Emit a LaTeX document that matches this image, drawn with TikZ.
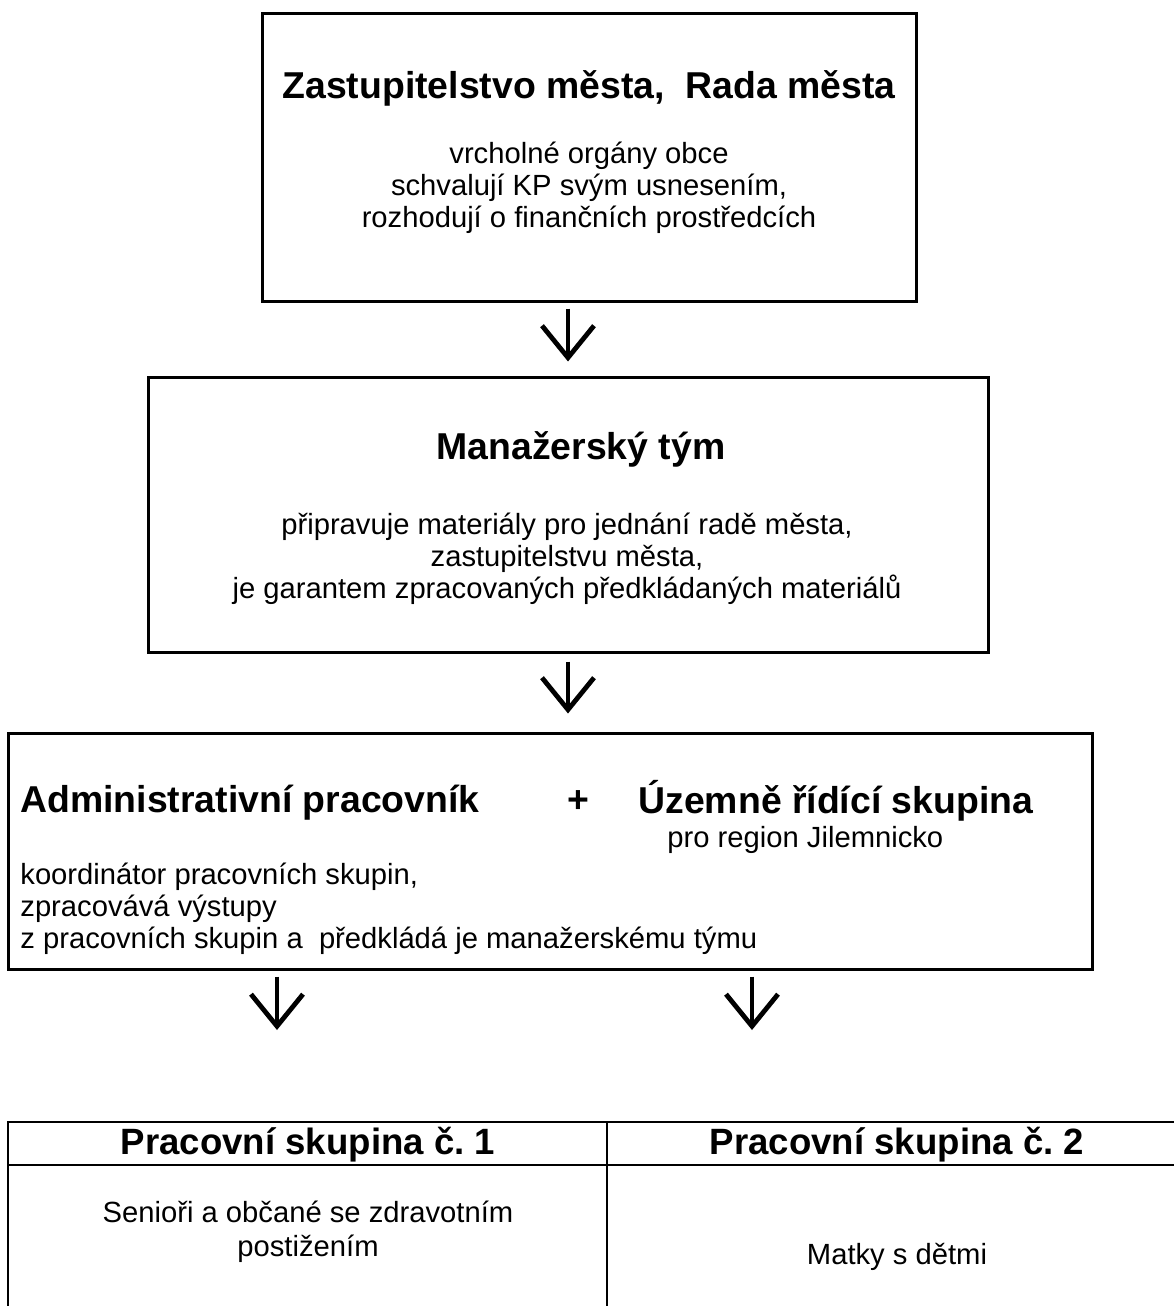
\documentclass[tikz,border=0pt]{standalone}
\usepackage{fontspec}
\setmainfont{Liberation Sans}
\usetikzlibrary{arrows.meta}

\begin{document}
\begin{tikzpicture}[x=0.5pt,y=-0.5pt,
  box/.style={draw,line width=1.5pt,inner sep=0pt},
  head/.style={font=\fontsize{18.7}{22}\selectfont\bfseries},
  body/.style={font=\fontsize{14.6}{16}\selectfont,align=center},
  arr/.style={-{Straight Barb[length=16pt,width=26pt]},line width=2.4pt},
  rule/.style={line width=1pt}]

\useasboundingbox (0,0) rectangle (1174,1306);

% boxes
\node[box,minimum width=327pt,minimum height=144pt] (box1) at (589,157) {};
\node[box,minimum width=420pt,minimum height=137.5pt] (box2) at (568,514.5) {};
\node[box,minimum width=542pt,minimum height=118pt] (box3) at (550,851) {};

\node[head] (zast) at (589,88) {Zastupitelstvo města,\ \ Rada města};
\node[body] (zastinfo) at (589,188) {vrcholné orgány obce\\schvalují KP svým usnesením,\\rozhodují o finančních prostředcích};

\node[head] (man) at (581,449) {Manažerský tým};
\node[body] (maninfo) at (567,559) {připravuje materiály pro jednání radě města,\\zastupitelstvu města,\\je garantem zpracovaných předkládaných materiálů};

\node[head,anchor=west,inner sep=0pt] (adm) at (20,803) {Administrativní pracovník};
\node[head] (plus) at (578,802) {+};
\node[head,anchor=west,inner sep=0pt] (urs) at (638,801) {Územně řídící skupina};
\node[body,anchor=west,inner sep=0pt] (region) at (667,840) {pro region Jilemnicko};
\node[body,align=left,anchor=west,inner sep=0pt] (adminfo) at (20,909) {koordinátor pracovních skupin,\\zpracovává výstupy\\z pracovních skupin a\ \ předkládá je manažerskému týmu};

% arrows
\coordinate (a3) at (277,1030);
\coordinate (a4) at (752,1030);
\draw[arr,shorten <=3pt,shorten >=7pt] (box1.south -| box2.north) -- (box2.north);
\draw[arr,shorten <=4pt,shorten >=9pt] (box2.south) -- (box2.south |- box3.north);
\draw[arr,shorten <=3pt] (box3.south -| a3) -- (a3);
\draw[arr,shorten <=3pt] (box3.south -| a4) -- (a4);

% table
\draw[rule] (8,1306) -- (8,1122) -- (1174,1122);
\draw[rule] (8,1165) -- (1174,1165);
\draw[line width=0.7pt] (607,1122) -- (607,1306);

\node[head,font=\fontsize{18.3}{22}\selectfont\bfseries] (ps1) at (308,1145) {Pracovní skupina č.~1};
\node[head,font=\fontsize{18.3}{22}\selectfont\bfseries] (ps2) at (897,1145) {Pracovní skupina č.~2};
\node[body,font=\fontsize{14.6}{17}\selectfont] (sen) at (308,1232) {Senioři a občané se zdravotním\\postižením};
\node[body] (mat) at (897,1257) {Matky s dětmi};

\end{tikzpicture}
\end{document}
